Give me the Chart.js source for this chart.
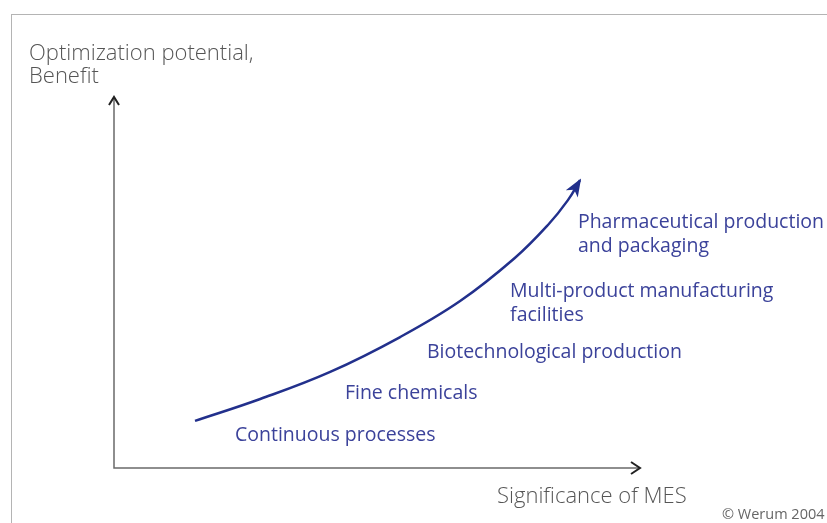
<!DOCTYPE html>
<html>
<head>
<meta charset="utf-8">
<script src="https://cdn.jsdelivr.net/npm/chart.js@4"></script>
<style>
  html, body { margin: 0; padding: 0; background: #fff; }
  #wrap { position: relative; width: 827px; height: 523px; overflow: hidden; }
  #frame { position: absolute; left: 11px; top: 14px; width: 900px; height: 600px;
           border-top: 1px solid #b4b4b4; border-left: 1px solid #b4b4b4; }
  canvas { position: absolute; left: 0; top: 0; }
</style>
</head>
<body>
<div id="wrap">
  <div id="frame"></div>
  <canvas id="mes" width="827" height="523"></canvas>
</div>
<script>
// curve: significance of MES (x) vs. optimization potential (y), 0..10
let curveX = [1.54, 2.78, 4.11, 5.44, 6.58, 7.62, 8.25, 8.63, 8.86];
let curveY = [1.27, 1.86, 2.59, 3.53, 4.50, 5.66, 6.55, 7.22, 7.76];

// industry stages along the curve, anchored in data units
let stages = [
  ["Continuous processes"],
  ["Fine chemicals"],
  ["Biotechnological production"],
  ["Multi-product manufacturing", "facilities"],
  ["Pharmaceutical production", "and packaging"]
];
let stageX = [2.3, 4.39, 5.95, 7.53, 8.82];
let stageY = [0.88, 2.0, 3.12, 4.75, 6.62];

const xTitle = "Significance of MES";
const yTitle = ["Optimization potential,", "Benefit"];
const credit = "© Werum 2004";

const blue = "#22308c";
const textBlue = "#3b429a";
const grey = "#6a6a6a";

const points = curveX.map((x, i) => ({ x: x, y: curveY[i] }));

const decor = {
  id: "decor",
  afterDatasetsDraw(chart) {
    const c = chart.ctx;
    const xs = chart.scales.x, ys = chart.scales.y;
    const x0 = xs.getPixelForValue(0), y0 = ys.getPixelForValue(0);
    const xEnd = xs.getPixelForValue(10), yEnd = ys.getPixelForValue(10);

    // axes with open arrowheads
    c.save();
    c.strokeStyle = grey;
    c.lineWidth = 1.5;
    c.beginPath();
    c.moveTo(x0, yEnd);
    c.lineTo(x0, y0);
    c.lineTo(xEnd, y0);
    c.stroke();
    c.lineWidth = 2;
    c.strokeStyle = "#222";
    c.beginPath();
    c.moveTo(x0 - 5, yEnd + 8); c.lineTo(x0, yEnd); c.lineTo(x0 + 5, yEnd + 8);
    c.moveTo(xEnd - 9, y0 - 6); c.lineTo(xEnd, y0); c.lineTo(xEnd - 9, y0 + 6);
    c.stroke();

    // filled arrowhead at the end of the curve
    const n = points.length;
    const ex = xs.getPixelForValue(curveX[n - 1]), ey = ys.getPixelForValue(curveY[n - 1]);
    const px = xs.getPixelForValue(curveX[n - 2]), py = ys.getPixelForValue(curveY[n - 2]);
    const a = Math.atan2(ey - py, ex - px);
    const L = 16, W = 7;
    c.fillStyle = blue;
    c.beginPath();
    c.moveTo(ex + Math.cos(a) * 2, ey + Math.sin(a) * 2);
    c.lineTo(ex - Math.cos(a) * L + Math.sin(a) * W, ey - Math.sin(a) * L - Math.cos(a) * W);
    c.lineTo(ex - Math.cos(a) * L * 0.7, ey - Math.sin(a) * L * 0.7);
    c.lineTo(ex - Math.cos(a) * L - Math.sin(a) * W, ey - Math.sin(a) * L + Math.cos(a) * W);
    c.closePath();
    c.fill();

    // stage labels
    c.font = "19.5px 'Open Sans'";
    c.fillStyle = textBlue;
    c.textBaseline = "middle";
    c.textAlign = "left";
    stages.forEach((lines, i) => {
      const lx = xs.getPixelForValue(stageX[i]);
      const ly = ys.getPixelForValue(stageY[i]);
      lines.forEach((t, j) => c.fillText(t, lx, ly + j * 24));
    });

    // axis titles
    c.fillStyle = "#555";
    c.font = "300 22px 'Open Sans'";
    yTitle.forEach((t, j) => c.fillText(t, 29, 54 + j * 23));
    c.fillText(xTitle, 497, 497);
    c.font = "14.5px 'Open Sans'";
    c.fillStyle = "#666";
    c.fillText(credit, 722, 515);
    c.restore();
  }
};

new Chart(document.getElementById("mes").getContext("2d"), {
  type: "line",
  data: {
    datasets: [{
      data: points,
      borderColor: blue,
      borderWidth: 2.5,
      pointRadius: 0,
      tension: 0.4,
      fill: false
    }]
  },
  options: {
    responsive: false,
    animation: false,
    layout: { padding: { left: 114, right: 187, top: 97, bottom: 55 } },
    plugins: { legend: { display: false }, tooltip: { enabled: false } },
    scales: {
      x: { type: "linear", min: 0, max: 10, display: false },
      y: { type: "linear", min: 0, max: 10, display: false }
    }
  },
  plugins: [decor]
});
</script>
</body>
</html>
